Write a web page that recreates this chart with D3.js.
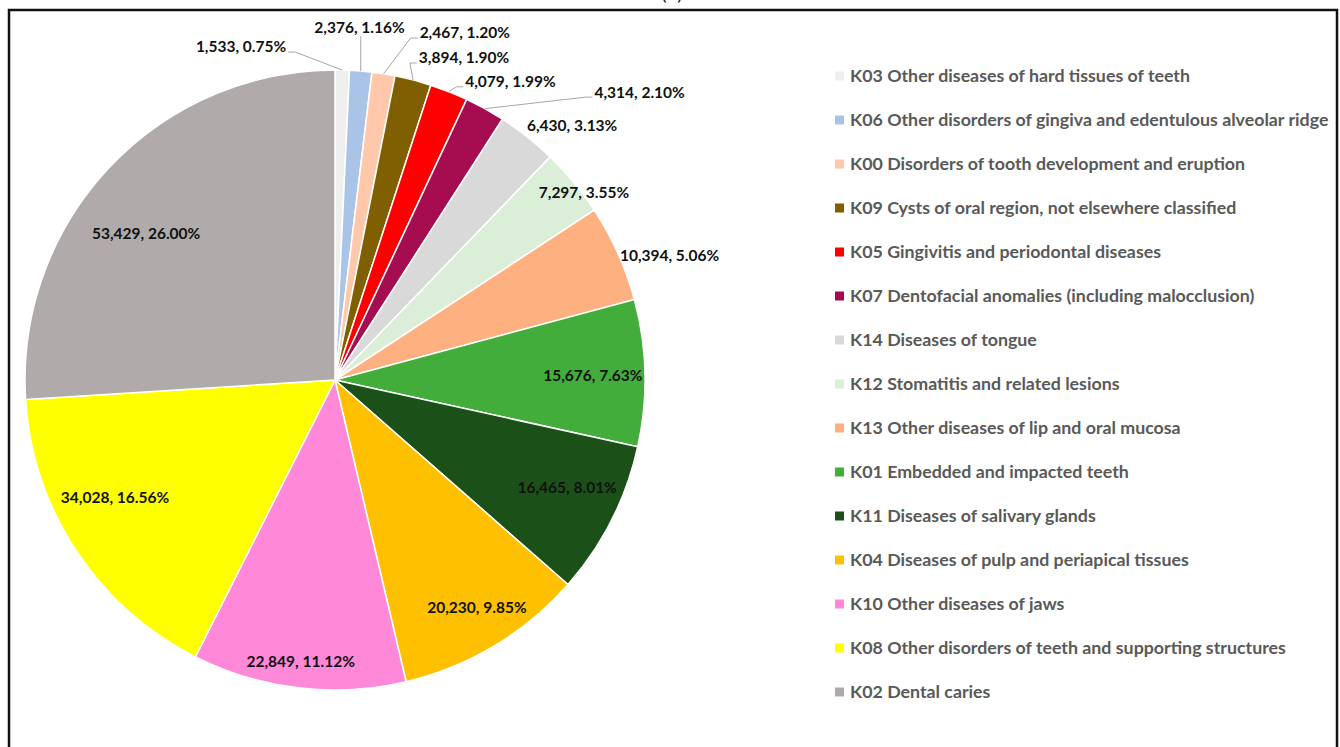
<!DOCTYPE html>
<html>
<head>
<meta charset="utf-8">
<script src="https://cdn.jsdelivr.net/npm/d3@7"></script>
<style>
  body { margin: 0; background: #fff; }
  text { font-family: Lato, "Open Sans", sans-serif; font-weight: bold; }
</style>
</head>
<body>
<div id="pie-chart"></div>
<script>
// Data (clockwise from 12 o'clock, same order as the legend)
let codes = ["K03", "K06", "K00", "K09", "K05", "K07", "K14", "K12", "K13", "K01", "K11", "K04", "K10", "K08", "K02"];
let names = [
  "Other diseases of hard tissues of teeth",
  "Other disorders of gingiva and edentulous alveolar ridge",
  "Disorders of tooth development and eruption",
  "Cysts of oral region, not elsewhere classified",
  "Gingivitis and periodontal diseases",
  "Dentofacial anomalies (including malocclusion)",
  "Diseases of tongue",
  "Stomatitis and related lesions",
  "Other diseases of lip and oral mucosa",
  "Embedded and impacted teeth",
  "Diseases of salivary glands",
  "Diseases of pulp and periapical tissues",
  "Other diseases of jaws",
  "Other disorders of teeth and supporting structures",
  "Dental caries"
];
let counts = [1533, 2376, 2467, 3894, 4079, 4314, 6430, 7297, 10394, 15676, 16465, 20230, 22849, 34028, 53429];
let percents = ["0.75%", "1.16%", "1.20%", "1.90%", "1.99%", "2.10%", "3.13%", "3.55%", "5.06%", "7.63%", "8.01%", "9.85%", "11.12%", "16.56%", "26.00%"];
let colors = ["#efefef", "#aac4e8", "#ffc8aa", "#7f5f00", "#ff0000", "#a50d50", "#d9d9d9", "#dbefd8", "#ffb081", "#43ad3c", "#1b5118", "#ffc000", "#ff88d9", "#ffff00", "#b0aaaa"];

// label layout: radius factor, angle shift (deg) from slice middle, leader line
let labelLayout = [
  [1.116, -17.1, true], [1.141, -0.8, true], [1.195, 11.5, true], [1.119, 7.25, true],
  [1.116, 8.9, true], [1.352, 17.7, true], [1.121, 4.7, false], [1.006, 2.6, false],
  [1.151, 3.8, false], [0.832, 0.4, false], [0.826, -1.9, false], [0.864, -1.0, false],
  [0.916, 0.2, false], [0.804, 5.4, false], [0.770, -5.5, false]
];

let width = 1340;
let height = 747;
let cx = 335;
let cy = 380;
let radius = 310;

let svg = d3
  .select("#pie-chart")
  .append("svg")
  .attr("width", width)
  .attr("height", height);

// frame + panel title (cut off at the top, as in the source figure)
svg
  .append("rect")
  .attr("x", 9)
  .attr("y", 10)
  .attr("width", 1328)
  .attr("height", 760)
  .attr("fill", "none")
  .attr("stroke", "#111")
  .attr("stroke-width", 2.5);
svg
  .append("text")
  .attr("x", 672)
  .attr("y", 0)
  .attr("text-anchor", "middle")
  .style("font-size", "20px")
  .style("font-weight", "normal")
  .attr("fill", "#222")
  .text("(b)");

let idx = d3.range(counts.length);
let pie = d3
  .pie()
  .sort(null)
  .value(i => counts[i]);
let arcs = pie(idx);
let arc = d3
  .arc()
  .innerRadius(0)
  .outerRadius(radius);

let g = svg.append("g").attr("transform", `translate(${cx}, ${cy})`);

// slices
g.selectAll(".slice")
  .data(arcs)
  .enter()
  .append("path")
  .attr("class", "slice")
  .attr("d", arc)
  .attr("fill", d => colors[d.data])
  .attr("stroke", "#fff")
  .attr("stroke-width", 1.5);

// polar helper, angle measured clockwise from 12 o'clock
function polar(r, a) {
  return [r * Math.sin(a), -r * Math.cos(a)];
}

// data labels
let labels = g
  .selectAll(".data-label")
  .data(arcs)
  .enter()
  .append("text")
  .attr("class", "data-label")
  .attr("text-anchor", "middle")
  .attr("dy", "0.35em")
  .style("font-size", "15.5px")
  .attr("fill", "#111")
  .attr("transform", d => {
    let lay = labelLayout[d.data];
    let mid = (d.startAngle + d.endAngle) / 2 + (lay[1] * Math.PI) / 180;
    let p = polar(radius * lay[0], mid);
    return `translate(${p[0]}, ${p[1]})`;
  })
  .text(d => `${d3.format(",")(counts[d.data])}, ${percents[d.data]}`);

// leader lines for the small outside slices
labels.each(function(d) {
  let lay = labelLayout[d.data];
  if (!lay[2]) return;
  let mid = (d.startAngle + d.endAngle) / 2;
  let e = polar(radius, mid);
  let l = polar(radius * lay[0], mid + (lay[1] * Math.PI) / 180);
  let w = this.getComputedTextLength();
  let pts;
  if (e[0] > l[0] - w / 2 && e[0] < l[0] + w / 2) {
    pts = [e, [e[0], l[1] + 9]];
  } else if (e[0] < l[0]) {
    let sx = l[0] - w / 2 - 2;
    pts = [e, [sx - 7, l[1] + 5], [sx, l[1] + 5]];
  } else {
    let sx = l[0] + w / 2 + 2;
    pts = [e, [sx + 7, l[1] + 5], [sx, l[1] + 5]];
  }
  g.insert("path", ".data-label")
    .attr("d", d3.line()(pts))
    .attr("fill", "none")
    .attr("stroke", "#a6a6a6")
    .attr("stroke-width", 1);
});

// legend
let legendY = d3
  .scalePoint()
  .domain(idx)
  .range([76, 692]);
let legend = svg
  .append("g")
  .selectAll(".legend-item")
  .data(idx)
  .enter()
  .append("g")
  .attr("class", "legend-item")
  .attr("transform", i => `translate(835, ${legendY(i)})`);
legend
  .append("rect")
  .attr("x", 0)
  .attr("y", -4.5)
  .attr("width", 9)
  .attr("height", 9)
  .attr("fill", i => colors[i]);
legend
  .append("text")
  .attr("x", 15)
  .attr("dy", "0.35em")
  .style("font-size", "17.8px")
  .attr("fill", "#595959")
  .text(i => `${codes[i]} ${names[i]}`);
</script>
</body>
</html>
